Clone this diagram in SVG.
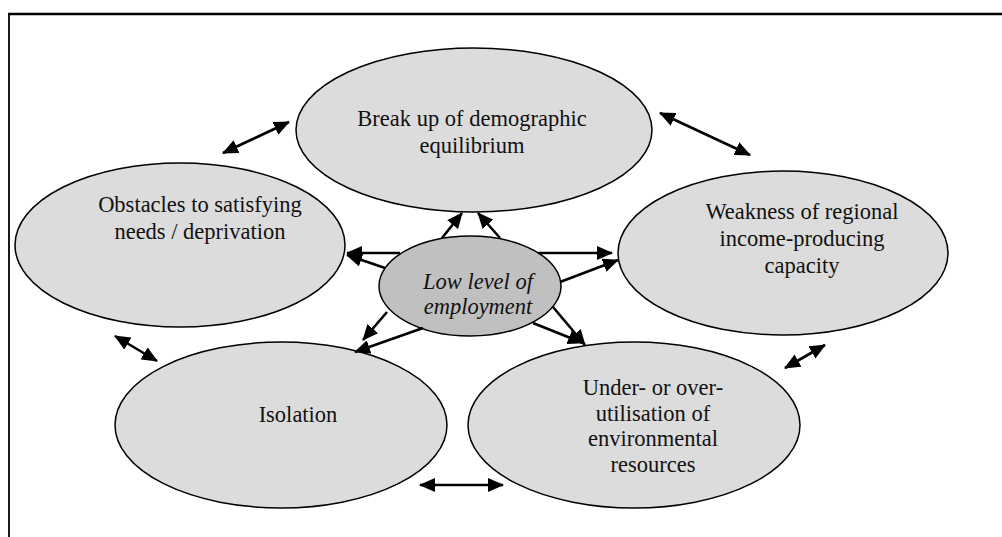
<svg xmlns="http://www.w3.org/2000/svg" width="1002" height="537" viewBox="0 0 1002 537">
<style>
.n{fill:#dcdcdc;stroke:#000;stroke-width:1.5}
.c{fill:#c0c0c0;stroke:#000;stroke-width:1.5}
text{font-family:'Liberation Serif','Times New Roman','DejaVu Serif',serif;font-size:22.5px;fill:#111;text-anchor:middle}
.ti{font-style:italic}
.a{stroke:#000;stroke-width:2.6;fill:none;marker-end:url(#ah)}
.d{stroke:#000;stroke-width:2.6;fill:none;marker-end:url(#ah);marker-start:url(#ah)}
</style>
<defs>
<marker id="ah" markerUnits="userSpaceOnUse" markerWidth="16" markerHeight="14" viewBox="0 0 16 14" refX="15" refY="7" orient="auto-start-reverse">
<path d="M0,0 L16,7 L0,14 Z" fill="#000"/>
</marker>
</defs>
<rect width="1002" height="537" fill="#fff"/>
<g id="frame" stroke="#000" fill="none">
<line x1="8" y1="14" x2="1002" y2="14" stroke-width="2.5"/>
<line x1="9" y1="13" x2="9" y2="537" stroke-width="1.8"/>
</g>
<g id="node-top">
<ellipse class="n" cx="474" cy="130" rx="178" ry="82"/>
<text x="472" y="126">Break up of demographic</text>
<text x="472" y="153">equilibrium</text>
</g>
<g id="node-left">
<ellipse class="n" cx="180" cy="245" rx="165" ry="82"/>
<text x="200" y="212">Obstacles to satisfying</text>
<text x="200" y="239">needs / deprivation</text>
</g>
<g id="node-right">
<ellipse class="n" cx="783" cy="253" rx="165" ry="82"/>
<text x="802" y="219">Weakness of regional</text>
<text x="802" y="246">income-producing</text>
<text x="802" y="273">capacity</text>
</g>
<g id="node-isolation">
<ellipse class="n" cx="281" cy="425" rx="166" ry="83"/>
<text x="298" y="422">Isolation</text>
</g>
<g id="node-resources">
<ellipse class="n" cx="634" cy="425" rx="166" ry="83"/>
<text x="653" y="395">Under- or over-</text>
<text x="653" y="421">utilisation of</text>
<text x="653" y="446">environmental</text>
<text x="653" y="472">resources</text>
</g>
<g id="node-center">
<ellipse class="c" cx="470" cy="286" rx="91" ry="50"/>
<text class="ti" x="478" y="289">Low level of</text>
<text class="ti" x="478" y="314">employment</text>
</g>
<g id="connectors">
<line class="d" x1="223" y1="153" x2="289" y2="122"/>
<line class="d" x1="660" y1="113" x2="750" y2="155"/>
<line class="d" x1="115" y1="336" x2="157" y2="361"/>
<line class="d" x1="785" y1="368" x2="825" y2="345"/>
<line class="d" x1="420" y1="485" x2="503" y2="485"/>
<line class="a" x1="442" y1="238" x2="462" y2="213"/>
<line class="a" x1="500" y1="238" x2="478" y2="213"/>
<line class="a" x1="400" y1="253" x2="347" y2="253"/>
<line class="a" x1="385" y1="268" x2="347" y2="255"/>
<line class="a" x1="538" y1="253" x2="612" y2="253"/>
<line class="a" x1="560" y1="282" x2="618" y2="260"/>
<line class="a" x1="387" y1="312" x2="363" y2="340"/>
<line class="a" x1="423" y1="328" x2="355" y2="352"/>
<line class="a" x1="553" y1="307" x2="585" y2="345"/>
<line class="a" x1="533" y1="323" x2="583" y2="343"/>
</g>
</svg>
